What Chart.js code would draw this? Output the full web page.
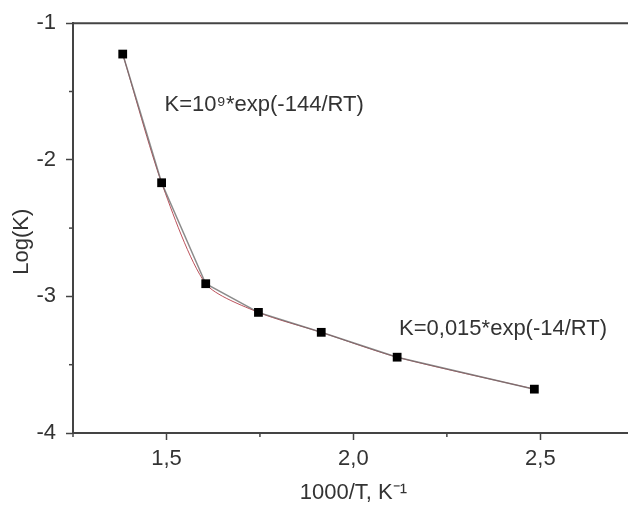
<!DOCTYPE html>
<html>
<head>
<meta charset="utf-8">
<script src="https://cdn.jsdelivr.net/npm/chart.js@4/dist/chart.umd.min.js"></script>
<style>
  html, body { margin: 0; padding: 0; background: #fff; overflow: hidden; }
  #wrap { width: 628px; height: 506px; position: relative; overflow: hidden; }
</style>
</head>
<body>
<div id="wrap"><canvas id="c" width="640" height="506"></canvas></div>
<script>
// ---- data ----
const xValues = [1.383, 1.487, 1.605, 1.746, 1.914, 2.117, 2.484];   // 1000/T, K^-1
const logK    = [-1.226, -2.168, -2.907, -3.117, -3.263, -3.445, -3.679];
const xTickLabelsAt = [1.5, 2.0, 2.5];
const yTickLabelsAt = [-4, -3, -2, -1];
const annotations = [
  { text: 'K=10\u2079*exp(-144/RT)', x: 1.495, y: -1.6 },
  { text: 'K=0,015*exp(-14/RT)', x: 2.122, y: -3.24 }
];
const xTitle = '1000/T, K\u207B\u00B9';
const yTitle = 'Log(K)';

const FONT = '"Liberation Sans", Arial, Helvetica, sans-serif';
const AXIS = '#444';
const TXT = '#333';

const pts = xValues.map((x, i) => ({ x, y: logK[i] }));
const near = (v, arr) => arr.some(a => Math.abs(a - v) < 1e-6);

const extras = {
  id: 'extras',
  afterDraw(chart) {
    const { ctx, chartArea: ca, scales: { x, y } } = chart;
    ctx.save();
    // top frame line
    ctx.strokeStyle = AXIS; ctx.lineWidth = 2;
    ctx.beginPath(); ctx.moveTo(ca.left, ca.top); ctx.lineTo(ca.right, ca.top); ctx.stroke();
    // minor ticks
    ctx.lineWidth = 1.5;
    x.ticks.forEach(t => {
      if (near(t.value, xTickLabelsAt)) return;
      if (Math.abs(t.value / 0.25 - Math.round(t.value / 0.25)) > 1e-6) return;
      const px = x.getPixelForValue(t.value);
      ctx.beginPath(); ctx.moveTo(px, ca.bottom); ctx.lineTo(px, ca.bottom + 4); ctx.stroke();
    });
    y.ticks.forEach(t => {
      if (near(t.value, yTickLabelsAt)) return;
      const py = y.getPixelForValue(t.value);
      ctx.beginPath(); ctx.moveTo(ca.left - 4, py); ctx.lineTo(ca.left, py); ctx.stroke();
    });
    // annotations
    ctx.fillStyle = TXT;
    ctx.font = '22px ' + FONT;
    ctx.textBaseline = 'middle';
    ctx.textAlign = 'left';
    annotations.forEach(a => ctx.fillText(a.text, x.getPixelForValue(a.x), y.getPixelForValue(a.y)));
    // axis titles
    ctx.textAlign = 'center';
    ctx.fillText(xTitle, x.getPixelForValue(2.0), 493);
    ctx.save();
    ctx.translate(22, y.getPixelForValue(-2.6));
    ctx.rotate(-Math.PI / 2);
    ctx.fillText(yTitle, 0, 0);
    ctx.restore();
    ctx.restore();
  }
};

new Chart(document.getElementById('c'), {
  type: 'scatter',
  data: {
    datasets: [
      {
        label: 'fit',
        data: pts,
        showLine: true,
        borderColor: 'rgba(176,50,62,0.85)',
        borderWidth: 1,
        tension: 0.25,
        pointRadius: 0,
        clip: false,
        order: 2
      },
      {
        label: 'data',
        data: pts,
        showLine: true,
        borderColor: 'rgba(110,110,110,0.8)',
        borderWidth: 1.5,
        pointStyle: 'rect',
        pointRadius: 6.2,
        pointBackgroundColor: '#000',
        pointBorderColor: '#000',
        pointBorderWidth: 0,
        clip: false,
        order: 1
      }
    ]
  },
  plugins: [extras],
  options: {
    responsive: false,
    animation: false,
    devicePixelRatio: 1,
    layout: { padding: { top: 22, right: 0, left: 0, bottom: 0 } },
    plugins: { legend: { display: false }, tooltip: { enabled: false } },
    scales: {
      x: {
        type: 'linear',
        min: 1.25,
        max: 2.75,
        afterFit(s) { s.height = 73; },
        border: { display: true, color: AXIS, width: 2 },
        grid: {
          display: true, drawOnChartArea: false, drawTicks: true, tickLength: 7,
          tickWidth: 1.5,
          tickColor: c => (c.tick && near(c.tick.value, xTickLabelsAt)) ? AXIS : 'rgba(0,0,0,0)'
        },
        ticks: {
          stepSize: 0.25,
          autoSkip: false,
          maxRotation: 0,
          padding: 6,
          color: TXT,
          font: { family: FONT, size: 22 },
          callback: v => near(v, xTickLabelsAt) ? v.toFixed(1).replace('.', ',') : ''
        }
      },
      y: {
        type: 'linear',
        min: -4,
        max: -1,
        afterFit(s) { s.width = 73; },
        border: { display: true, color: AXIS, width: 2 },
        grid: {
          display: true, drawOnChartArea: false, drawTicks: true, tickLength: 7,
          tickWidth: 1.5,
          tickColor: c => (c.tick && near(c.tick.value, yTickLabelsAt)) ? AXIS : 'rgba(0,0,0,0)'
        },
        ticks: {
          stepSize: 0.5,
          autoSkip: false,
          padding: 10,
          color: TXT,
          font: { family: FONT, size: 22 },
          callback: v => near(v, yTickLabelsAt) ? String(v) : ''
        }
      }
    }
  }
});
</script>
</body>
</html>
